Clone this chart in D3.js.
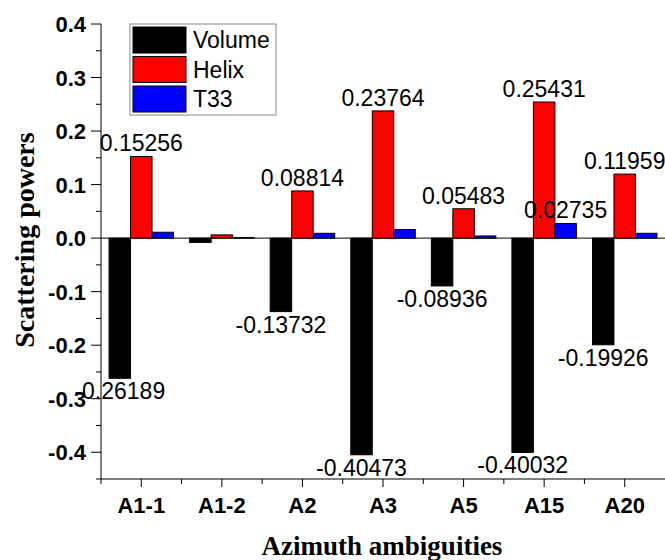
<!DOCTYPE html>
<html>
<head>
<meta charset="utf-8">
<script src="https://cdn.jsdelivr.net/npm/d3@7"></script>
<style>
  html, body { margin: 0; padding: 0; background: #fff; overflow: hidden; }
</style>
</head>
<body>
<div id="viz"></div>
<script>
const width = 665;
const height = 560;

const categories = ['A1-1', 'A1-2', 'A2', 'A3', 'A5', 'A15', 'A20'];
const seriesNames = ['Volume', 'Helix', 'T33'];
const colors = ['#000000', '#ff0000', '#0000ff'];

const volume = [-0.26189, -0.008, -0.13732, -0.40473, -0.08936, -0.40032, -0.19926];
const helix = [0.15256, 0.006, 0.08814, 0.23764, 0.05483, 0.25431, 0.11959];
const t33 = [0.011, 0.001, 0.009, 0.016, 0.004, 0.02735, 0.009];

// which bars carry a value label
const volumeLabels = ['-0.26189', null, '-0.13732', '-0.40473', '-0.08936', '-0.40032', '-0.19926'];
const helixLabels = ['0.15256', null, '0.08814', '0.23764', '0.05483', '0.25431', '0.11959'];
const t33Labels = [null, null, null, null, null, '0.02735', null];

const yTicks = [-0.4, -0.3, -0.2, -0.1, 0.0, 0.1, 0.2, 0.3, 0.4];
const yMinorTicks = [-0.45, -0.35, -0.25, -0.15, -0.05, 0.05, 0.15, 0.25, 0.35];

const plotLeft = 101, plotRight = 665, plotTop = 24, plotBottom = 479;

const x = d3.scaleBand()
  .domain(categories)
  .range([plotLeft, plotRight])
  .paddingInner(0.2)
  .paddingOuter(0.1);

const xs = d3.scaleBand()
  .domain(seriesNames)
  .range([0, x.bandwidth()]);

const y = d3.scaleLinear()
  .domain([-0.45, 0.4])
  .range([plotBottom, plotTop]);

const svg = d3.select('#viz').append('svg')
  .attr('width', width)
  .attr('height', height)
  .style('font-family', 'Arial, "Liberation Sans", sans-serif');

const rows = categories.map((c, i) => ({
  cat: c,
  vals: [volume[i], helix[i], t33[i]],
  labels: [volumeLabels[i], helixLabels[i], t33Labels[i]]
}));

// zero line
svg.append('line')
  .attr('x1', plotLeft).attr('x2', plotRight)
  .attr('y1', y(0)).attr('y2', y(0))
  .attr('stroke', '#000').attr('stroke-width', 1);

// bars
const groups = svg.append('g').selectAll('g')
  .data(rows)
  .enter().append('g')
  .attr('transform', d => `translate(${x(d.cat)},0)`);

groups.selectAll('rect')
  .data(d => d.vals.map((v, k) => ({ v, k })))
  .enter().append('rect')
  .attr('x', d => xs(seriesNames[d.k]))
  .attr('width', xs.bandwidth())
  .attr('y', d => y(Math.max(0, d.v)))
  .attr('height', d => Math.abs(y(d.v) - y(0)))
  .attr('fill', d => colors[d.k])
  .attr('stroke', '#000')
  .attr('stroke-width', 1);

// value labels
groups.selectAll('text.val')
  .data(d => d.vals.map((v, k) => ({ v, k, label: d.labels[k] })).filter(d => d.label))
  .enter().append('text')
  .attr('class', 'val')
  .attr('x', d => xs(seriesNames[d.k]) + xs.bandwidth() / 2)
  .attr('y', d => d.v >= 0 ? y(d.v) - 5 : y(d.v) + 21)
  .attr('text-anchor', 'middle')
  .attr('font-size', 23)
  .attr('fill', '#000')
  .text(d => d.label);

// y axis
const yAxis = svg.append('g');
yAxis.append('line')
  .attr('x1', plotLeft).attr('x2', plotLeft)
  .attr('y1', plotTop).attr('y2', plotBottom)
  .attr('stroke', '#000');
yAxis.selectAll('.ymajor')
  .data(yTicks)
  .enter().append('line')
  .attr('x1', plotLeft - 10).attr('x2', plotLeft)
  .attr('y1', d => y(d)).attr('y2', d => y(d))
  .attr('stroke', '#000');
yAxis.selectAll('.yminor')
  .data(yMinorTicks)
  .enter().append('line')
  .attr('x1', plotLeft - 5).attr('x2', plotLeft)
  .attr('y1', d => y(d)).attr('y2', d => y(d))
  .attr('stroke', '#000');
yAxis.selectAll('text')
  .data(yTicks)
  .enter().append('text')
  .attr('x', plotLeft - 15)
  .attr('y', d => y(d) + 8)
  .attr('text-anchor', 'end')
  .attr('font-size', 22)
  .attr('font-weight', 'bold')
  .text(d => d.toFixed(1));

// x axis
const xAxis = svg.append('g');
xAxis.append('line')
  .attr('x1', plotLeft).attr('x2', plotRight)
  .attr('y1', plotBottom).attr('y2', plotBottom)
  .attr('stroke', '#000');
xAxis.selectAll('.xmajor')
  .data(categories)
  .enter().append('line')
  .attr('x1', d => x(d) + x.bandwidth() / 2).attr('x2', d => x(d) + x.bandwidth() / 2)
  .attr('y1', plotBottom).attr('y2', plotBottom + 8)
  .attr('stroke', '#000');
xAxis.selectAll('.xminor')
  .data(categories)
  .enter().append('line')
  .attr('x1', d => x(d) - x.step() * x.paddingOuter())
  .attr('x2', d => x(d) - x.step() * x.paddingOuter())
  .attr('y1', plotBottom).attr('y2', plotBottom + 5)
  .attr('stroke', '#000');
xAxis.selectAll('text')
  .data(categories)
  .enter().append('text')
  .attr('x', d => x(d) + x.bandwidth() / 2)
  .attr('y', 513)
  .attr('text-anchor', 'middle')
  .attr('font-size', 22)
  .attr('font-weight', 'bold')
  .text(d => d);

// axis titles
svg.append('text')
  .attr('x', 382)
  .attr('y', 555)
  .attr('text-anchor', 'middle')
  .attr('font-family', '"Liberation Serif", "Times New Roman", serif')
  .attr('font-weight', 'bold')
  .attr('font-size', 27)
  .text('Azimuth ambiguities');

svg.append('text')
  .attr('transform', 'translate(34,240) rotate(-90)')
  .attr('text-anchor', 'middle')
  .attr('font-family', '"Liberation Serif", "Times New Roman", serif')
  .attr('font-weight', 'bold')
  .attr('font-size', 28)
  .text('Scattering powers');

// legend
const legend = svg.append('g');
legend.append('rect')
  .attr('x', 130).attr('y', 24)
  .attr('width', 146).attr('height', 91)
  .attr('fill', '#fff')
  .attr('stroke', '#888');
const items = legend.selectAll('g.item')
  .data(seriesNames)
  .enter().append('g')
  .attr('transform', (d, i) => `translate(133,${27 + i * 29.5})`);
items.append('rect')
  .attr('width', 53).attr('height', 26)
  .attr('fill', (d, i) => colors[i])
  .attr('stroke', '#000');
items.append('text')
  .attr('x', 60).attr('y', 21)
  .attr('font-size', 23)
  .text(d => d);
</script>
</body>
</html>
